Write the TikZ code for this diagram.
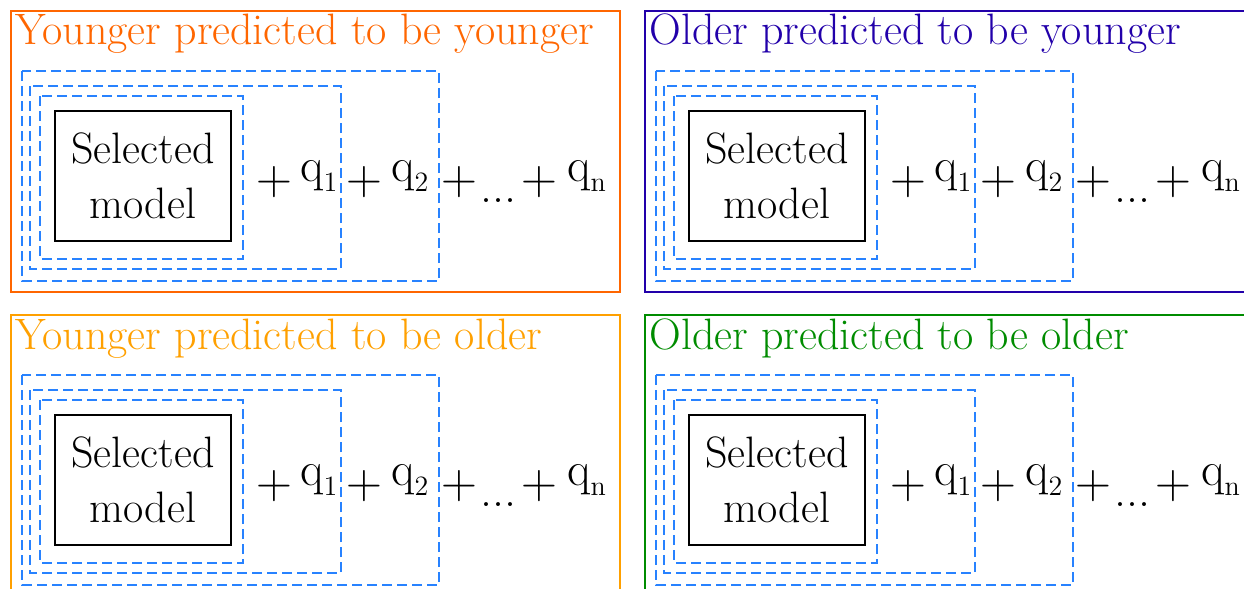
\documentclass[tikz,border=0pt]{standalone}
\usepackage{tikz}
\definecolor{yngyng}{RGB}{255,102,0}
\definecolor{oldyng}{RGB}{34,0,170}
\definecolor{yngold}{RGB}{255,160,0}
\definecolor{oldold}{RGB}{0,140,0}
\definecolor{dashblue}{RGB}{40,130,255}
\newcommand{\qsub}[1]{q\raisebox{-5pt}{\fontsize{14}{14}\selectfont #1}}
\tikzset{
  panel/.style={draw=#1, line width=1pt},
  paneltitle/.style={text=#1, font=\fontsize{22}{26}\selectfont, anchor=base west, inner sep=0pt},
  dashbox/.style={draw=dashblue, line width=1.3pt, dash pattern=on 5pt off 2.5pt},
  modelbox/.style={draw, line width=1pt, minimum width=88pt, minimum height=65pt, align=center,
                   font=\fontsize{22}{27.5}\selectfont, inner sep=0pt},
  plusterm/.style={inner sep=0pt, font=\fontsize{24}{28}\selectfont},
  qterm/.style={inner sep=0pt, anchor=base west, font=\fontsize{24}{28}\selectfont},
}

\begin{document}
\begin{tikzpicture}[x=0.5pt, y=-0.5pt]
  \useasboundingbox (0,0) rectangle (1244,589);
  \clip (0,0) rectangle (1244,589);
  \foreach \ox/\oy/\col/\ttl/\nm in {0/0/yngyng/{Younger predicted to be younger}/a,
      634/0/oldyng/{Older predicted to be younger}/b,
      0/304/yngold/{Younger predicted to be older}/c,
      634/304/oldold/{Older predicted to be older}/d}{
    \begin{scope}[shift={(\ox,\oy)}]
      \draw[panel=\col] (11,11) rectangle (620,292);
      \node[paneltitle=\col] (title-\nm) at (15,45) {\ttl};
      % nested dashed boxes
      \draw[dashbox] (22,71) rectangle (439,281);
      \draw[dashbox] (30,86) rectangle (341,269);
      \draw[dashbox] (40,96) rectangle (243,259);
      \node[modelbox] (model-\nm) at (143,176) {Selected\\model};
      % the sum
      \node[plusterm] (plusa-\nm) at (274,182) {$+$};
      \node[qterm] (qa-\nm) at (300,181) {\qsub{1}};
      \node[plusterm] (plusb-\nm) at (364,182) {$+$};
      \node[qterm] (qb-\nm) at (391,181) {\qsub{2}};
      \node[plusterm] (plusc-\nm) at (459,182) {$+$};
      \node[qterm] (dots-\nm) at (480,202) {...};
      \node[plusterm] (plusd-\nm) at (539,182) {$+$};
      \node[qterm] (qn-\nm) at (567,181) {\qsub{n}};
    \end{scope}
  }
\end{tikzpicture}
\end{document}
